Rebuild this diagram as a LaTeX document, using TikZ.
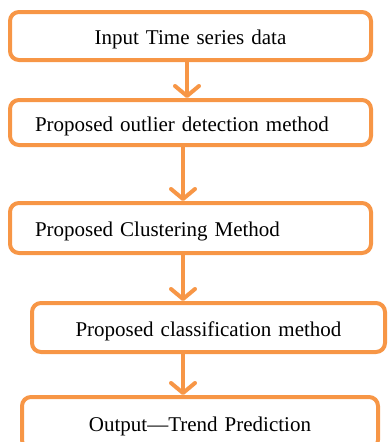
\documentclass[tikz,border=0pt]{standalone}
\usepackage{fontspec}
\setmainfont{Liberation Serif}
\usetikzlibrary{arrows.meta}
\definecolor{boxorange}{RGB}{247,150,70}
\begin{document}
\begin{tikzpicture}[x=1pt, y=-1pt,
		box/.style={draw=boxorange, line width=4pt, rounded corners=9pt, inner xsep=25pt, inner ysep=0pt,
			text height=17pt, text depth=0pt, font=\fontsize{21}{25}\selectfont},
		flow/.style={draw=boxorange, line width=4pt, -{Straight Barb[length=10pt, width=24pt, round]}}]
	\useasboundingbox (0, 0) rectangle (388, 442);
	\node[box, text width=311pt, align=center, minimum height=48pt] (input) at (190.5, 36) {Input Time series data};
	\node[box, text width=311pt, align=left, minimum height=45pt] (outlier) at (190.5, 122.5) {Proposed outlier detection method};
	\node[box, text width=311pt, align=left, minimum height=50pt] (cluster) at (190.5, 228) {Proposed Clustering Method};
	\node[box, text width=303pt, align=center, minimum height=49pt] (classify) at (208.5, 327.5) {Proposed classification method};
	\node[box, text width=306pt, align=center, minimum height=52pt] (output) at (200, 423) {Output---Trend Prediction};
	\draw[flow] ([xshift=-3.5pt]input.south) -- ([xshift=-3.5pt]input.south |- outlier.north);
	\draw[flow] ([xshift=-7.5pt]outlier.south) -- ([xshift=-7.5pt]outlier.south |- cluster.north);
	\draw[flow] ([xshift=-7.5pt]cluster.south) -- ([xshift=-7.5pt]cluster.south |- classify.north);
	\draw[flow] ([xshift=-7.5pt]cluster.south |- classify.south) -- ([xshift=-7.5pt]cluster.south |- output.north);
\end{tikzpicture}
\end{document}
